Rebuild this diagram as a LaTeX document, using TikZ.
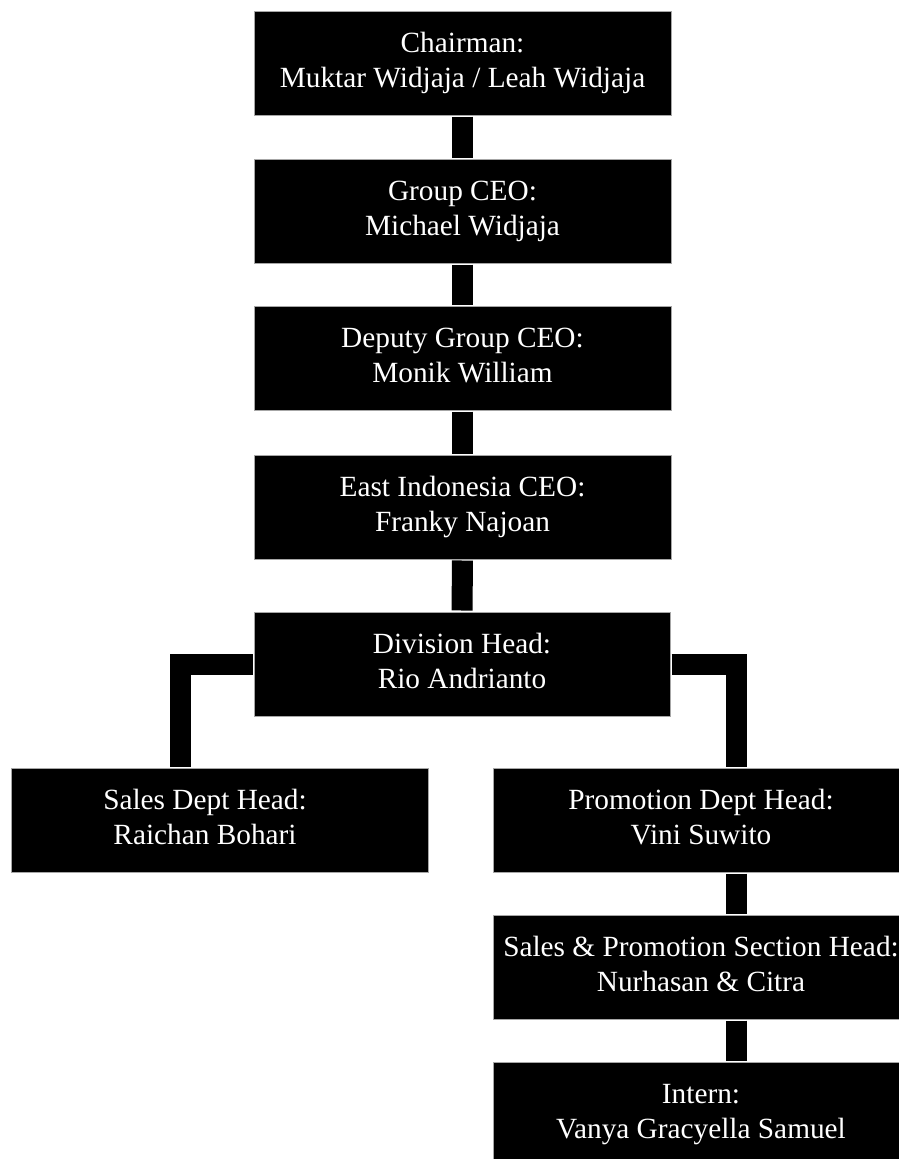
\documentclass[tikz,border=0pt]{standalone}
\usepackage{fontspec}
\setmainfont{Liberation Serif}
\newcommand\twol[2]{{\renewcommand\arraystretch{1}\begin{tabular}{@{}c@{}}#1\\#2\end{tabular}}}
\begin{document}
\begin{tikzpicture}[x=1pt,y=-1pt,
  box/.style={fill=black, draw=black!35, line width=0.8pt, minimum width=#1, minimum height=104pt, inner sep=0pt, outer sep=0pt},
  box/.default=417pt,
  lbl/.style={text=white, font=\fontsize{29.3}{35}\selectfont, inner sep=0pt, align=center},
  conn/.style={line width=21pt, draw=black, line join=miter, line cap=butt, shorten <=1.5pt, shorten >=1.5pt}]
\useasboundingbox (0,0) rectangle (899,1159);
\clip (0,0) rectangle (899,1159);
% boxes
\node[box] (b1) at (462.5,63) {};
\node[box] (b2) at (462.5,211) {};
\node[box] (b3) at (462.5,358) {};
\node[box] (b4) at (462.5,507) {};
\node[box=416pt] (b5) at (462,664) {};
\node[box] (b6) at (219.5,820) {};
\node[box=416pt] (b7) at (701,820) {};
\node[box=416pt] (b8) at (701,967) {};
\node[box=416pt] (b9) at (701,1114) {};
% labels
\node[lbl] (t1) at (b1) {\twol{Chairman:}{Muktar Widjaja / Leah Widjaja}};
\node[lbl] (t2) at (b2) {\twol{Group CEO:}{Michael Widjaja}};
\node[lbl] (t3) at (b3) {\twol{Deputy Group CEO:}{Monik William}};
\node[lbl] (t4) at (b4) {\twol{East Indonesia CEO:}{Franky Najoan}};
\node[lbl] (t5) at (b5) {\twol{Division Head:}{Rio Andrianto}};
\node[lbl] (t6) at (205,820) {\twol{Sales Dept Head:}{Raichan Bohari}};
\node[lbl] (t7) at (b7) {\twol{Promotion Dept Head:}{Vini Suwito}};
\node[lbl] (t8) at (b8) {\twol{Sales \& Promotion Section Head:}{Nurhasan \& Citra}};
\node[lbl] (t9) at (b9) {\twol{Intern:}{Vanya Gracyella Samuel}};
% connectors
\draw[conn] (b1.south) -- (b2.north);
\draw[conn] (b2.south) -- (b3.north);
\draw[conn] (b3.south) -- (b4.north);
\draw[conn] (b4.south) -- (b5.north);
\draw[conn] ([yshift=-0.5pt]b5.west) -| ([xshift=-39.5pt]b6.north);
\draw[conn] ([yshift=-0.5pt]b5.east) -| ([xshift=35.5pt]b7.north);
\draw[conn] ([xshift=35.5pt]b7.south) -- ([xshift=35.5pt]b8.north);
\draw[conn] ([xshift=35.5pt]b8.south) -- ([xshift=35.5pt]b9.north);
\end{tikzpicture}
\end{document}
